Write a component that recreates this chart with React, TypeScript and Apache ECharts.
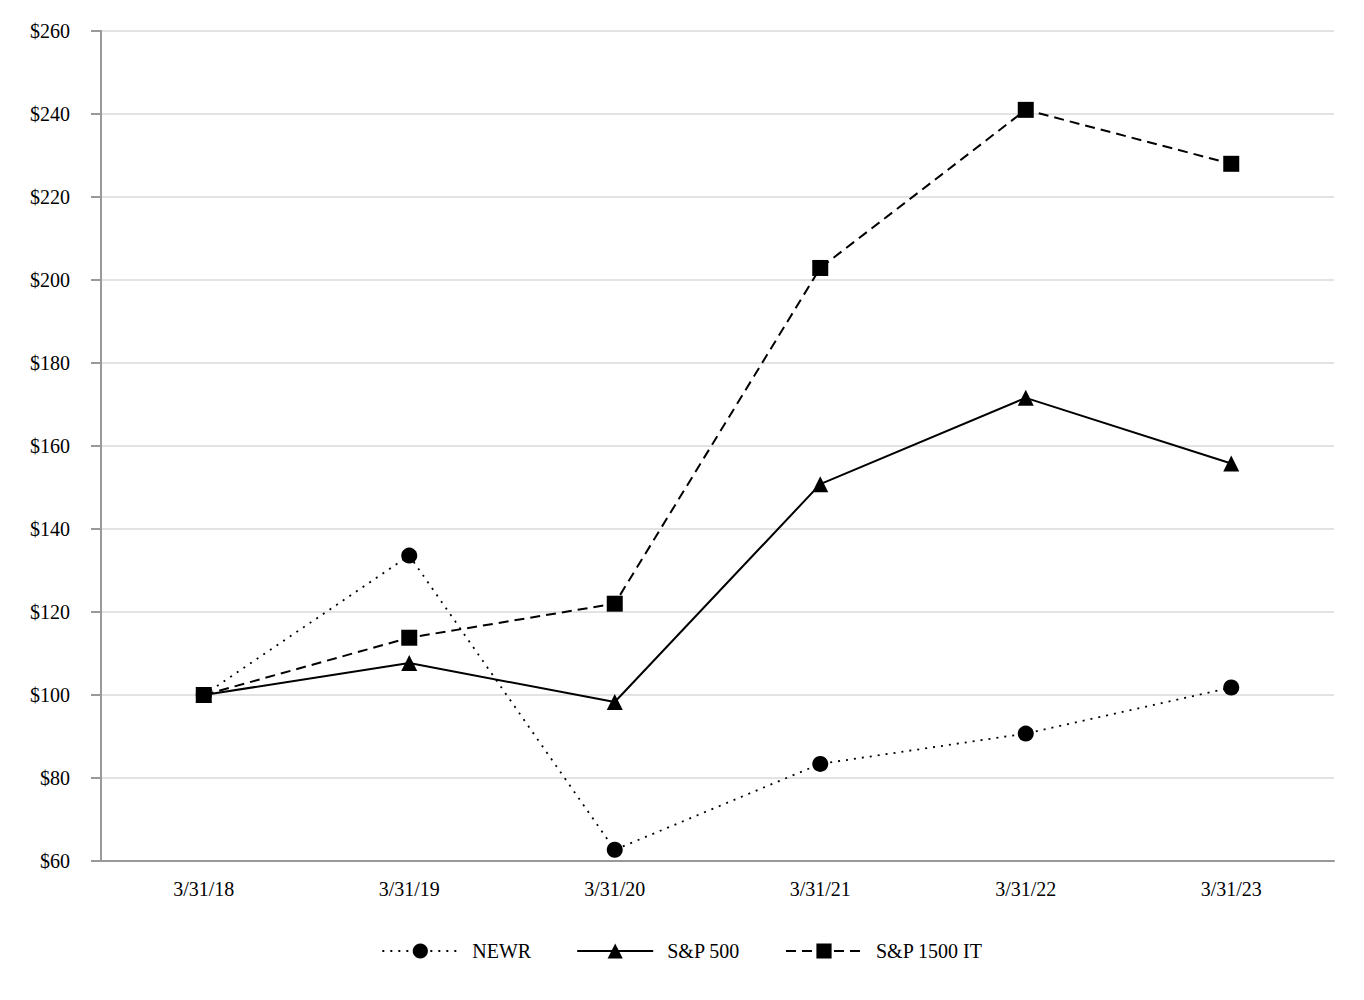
import React, { useEffect, useRef } from "react";
import * as echarts from "echarts";

const categories = ["3/31/18", "3/31/19", "3/31/20", "3/31/21", "3/31/22", "3/31/23"];
const newr = [100, 133.6, 62.7, 83.4, 90.7, 101.8];
const sp500 = [100, 107.7, 98.3, 150.8, 171.6, 155.8];
const sp1500it = [100, 113.8, 122.0, 202.9, 241.0, 228.0];

const FONT = "'Liberation Serif', 'Times New Roman', serif";

export default function App() {
  const ref = useRef<HTMLDivElement>(null);
  useEffect(() => {
    if (!ref.current) return;
    const chart = echarts.init(ref.current, null, { renderer: "svg" });
    const lineCommon = {
      type: "line" as const,
      itemStyle: { color: "#000" },
      z: 3,
    };
    chart.setOption({
      animation: false,
      backgroundColor: "#fff",
      textStyle: { fontFamily: FONT, color: "#000" },
      grid: { left: 101, right: 30, top: 31, bottom: 139, containLabel: false },
      xAxis: {
        type: "category",
        data: categories,
        boundaryGap: true,
        axisLine: { lineStyle: { color: "#999", width: 2 } },
        axisTick: { alignWithLabel: true, length: 6, lineStyle: { color: "#999", width: 2 } },
        axisLabel: { color: "#000", fontSize: 20, fontFamily: FONT, margin: 18 },
        splitLine: { show: false },
      },
      yAxis: {
        type: "value",
        min: 60,
        max: 260,
        interval: 20,
        axisLine: { show: true, lineStyle: { color: "#999", width: 2 } },
        axisTick: { show: true, length: 10, lineStyle: { color: "#999", width: 2 } },
        axisLabel: { color: "#000", fontSize: 20, fontFamily: FONT, margin: 31, formatter: (v: number) => "$" + v },
        splitLine: { show: true, lineStyle: { color: "#e3e3e3", width: 2 } },
      },
      legend: {
        left: "center",
        top: 936,
        itemWidth: 76,
        itemHeight: 19,
        itemGap: 45,
        textStyle: { fontSize: 20, fontFamily: FONT, color: "#000", padding: [0, 0, 0, 9] },
        data: ["NEWR", "S&P 500", "S&P 1500 IT"],
      },
      series: [
        {
          ...lineCommon,
          name: "NEWR",
          data: newr,
          symbol: "circle",
          symbolSize: 16,
          lineStyle: { color: "#000", width: 1.8, type: [2, 6] },
        },
        {
          ...lineCommon,
          name: "S&P 500",
          data: sp500,
          symbol: "triangle",
          symbolSize: 16,
          lineStyle: { color: "#000", width: 2, type: "solid" },
        },
        {
          ...lineCommon,
          name: "S&P 1500 IT",
          data: sp1500it,
          symbol: "rect",
          symbolSize: 16,
          lineStyle: { color: "#000", width: 2, type: [10, 6] },
        },
      ],
    });
    return () => chart.dispose();
  }, []);
  return (
    <div
      ref={ref}
      style={{ position: "fixed", left: 0, top: 0, width: 1364, height: 1000, background: "#fff" }}
    />
  );
}
